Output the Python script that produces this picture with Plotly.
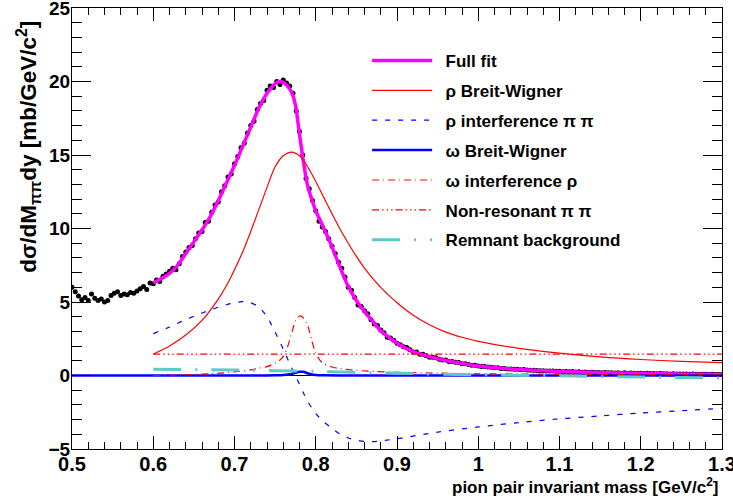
import plotly.graph_objects as go

# ---------------- data ----------------
mass_x = [round(0.5 + 0.004 * i, 3) for i in range(201)]
mass_y = [
    6.0, 5.7, 5.4, 5.15, 5.3, 5.1, 5.55, 5.25, 5.1, 5.2, 5.0, 5.1, 5.45, 5.6, 5.7, 5.45, 5.55, 5.5, 5.65, 5.6, 5.75, 5.9, 6.05, 5.85, 6.3,
    6.25, 6.5, 6.4, 6.75, 6.9, 7.1, 7.3, 7.2, 7.6, 8.1, 8.4, 8.7, 8.85, 9.3, 9.7, 9.8, 10.4, 10.5, 11.1, 11.6, 11.8, 12.5, 12.9, 13.5, 13.7,
    14.4, 14.9, 15.5, 15.8, 16.5, 17.0, 17.3, 18.1, 18.5, 18.7, 19.4, 19.7, 19.6, 20.0, 19.8, 20.1, 19.9, 19.7, 19.2, 18.0, 16.6, 15.0, 13.4, 12.7, 11.9,
    11.2, 10.5, 10.1, 9.8, 9.3, 8.8, 8.3, 7.7, 7.3, 6.7, 6.0, 5.8, 5.3, 4.8, 4.7, 4.4, 4.2, 3.8, 3.5, 3.4, 3.1, 2.9, 2.6, 2.55, 2.4,
    2.2, 2.1, 1.95, 1.9, 1.75, 1.6, 1.6, 1.45, 1.45, 1.35, 1.25, 1.25, 1.2, 1.1, 1.05, 1.05, 0.95, 0.95, 0.9, 0.88, 0.8, 0.8, 0.75, 0.7, 0.7,
    0.65, 0.62, 0.62, 0.57, 0.56, 0.52, 0.52, 0.48, 0.48, 0.45, 0.44, 0.42, 0.42, 0.39, 0.4, 0.37, 0.36, 0.35, 0.34, 0.33, 0.32, 0.31, 0.31, 0.3, 0.29,
    0.29, 0.26, 0.28, 0.25, 0.27, 0.24, 0.25, 0.22, 0.24, 0.21, 0.22, 0.2, 0.21, 0.19, 0.2, 0.18, 0.19, 0.17, 0.19, 0.16, 0.18, 0.15, 0.17, 0.15, 0.16,
    0.15, 0.14, 0.15, 0.13, 0.14, 0.12, 0.13, 0.12, 0.12, 0.11, 0.12, 0.1, 0.11, 0.1, 0.1, 0.09, 0.1, 0.08, 0.09, 0.08, 0.08, 0.07, 0.08, 0.06, 0.07, 0.06,
]

fit_x = [0.60, 0.61, 0.62, 0.63, 0.64, 0.65, 0.66, 0.67, 0.68, 0.69, 0.70, 0.71, 0.72, 0.73, 0.74,
         0.745, 0.75, 0.755, 0.76, 0.765, 0.77, 0.775, 0.78, 0.785, 0.79, 0.795, 0.80, 0.805, 0.81, 0.815,
         0.82, 0.83, 0.84, 0.85, 0.86, 0.87, 0.88, 0.89, 0.90,
         0.92, 0.94, 0.96, 0.98, 1.00, 1.05, 1.10, 1.15, 1.20, 1.25, 1.30]
fit_y = [6.3, 6.6, 6.95, 7.5, 8.3, 9.1, 9.9, 10.8, 11.9, 13.1, 14.3, 15.6, 16.9, 18.2, 19.2,
         19.55, 19.85, 20.0, 19.95, 19.7, 19.3, 18.4, 16.4, 14.5, 12.9, 12.0, 11.2, 10.6, 10.0, 9.4,
         8.75, 7.35, 6.05, 5.1, 4.35, 3.7, 3.05, 2.6, 2.2,
         1.62, 1.28, 1.02, 0.82, 0.65, 0.4, 0.28, 0.2, 0.15, 0.1, 0.06]

rho_bw_x = [0.60, 0.62, 0.64, 0.66, 0.68, 0.69, 0.70, 0.71, 0.72, 0.73, 0.74, 0.75, 0.76, 0.77, 0.78, 0.79, 0.80,
            0.81, 0.82, 0.83, 0.84, 0.85, 0.86, 0.87, 0.88, 0.89, 0.90, 0.92, 0.94, 0.96, 0.98, 1.00,
            1.05, 1.10, 1.15, 1.20, 1.25, 1.30]
rho_bw_y = [1.45, 2.0, 2.75, 3.75, 5.2, 6.1, 7.2, 8.4, 9.8, 11.3, 12.8, 14.2, 14.95, 15.2, 14.95, 14.2, 13.2,
            12.1, 11.0, 9.95, 9.0, 8.1, 7.3, 6.6, 6.0, 5.45, 4.95, 4.1, 3.45, 2.95, 2.6, 2.32,
            1.85, 1.52, 1.27, 1.09, 0.96, 0.87]

rho_int_x = [0.60, 0.62, 0.64, 0.66, 0.68, 0.70, 0.71, 0.72, 0.73, 0.74, 0.75, 0.76, 0.77, 0.78, 0.785, 0.79, 0.795, 0.80,
             0.81, 0.82, 0.83, 0.84, 0.85, 0.86, 0.87, 0.88, 0.90, 0.95, 1.00, 1.05, 1.10, 1.15, 1.20, 1.25, 1.30]
rho_int_y = [2.85, 3.3, 3.8, 4.25, 4.65, 4.95, 5.02, 4.95, 4.65, 4.0, 2.95, 1.8, 0.55, -0.6, -1.2, -1.75, -2.2, -2.6,
             -3.15, -3.6, -4.0, -4.25, -4.4, -4.48, -4.5, -4.45, -4.3, -3.85, -3.5, -3.2, -2.95, -2.75, -2.55, -2.4, -2.23]

omega_bw_x = [0.50, 0.74, 0.75, 0.76, 0.77, 0.775, 0.78, 0.785, 0.79, 0.795, 0.80, 0.81, 0.83, 1.30]
omega_bw_y = [0.0, 0.0, 0.01, 0.03, 0.1, 0.18, 0.25, 0.25, 0.15, 0.07, 0.03, 0.01, 0.0, 0.0]

omega_int_x = [0.60, 0.64, 0.68, 0.70, 0.72, 0.73, 0.74, 0.75, 0.755, 0.76, 0.765, 0.77, 0.775, 0.78, 0.785, 0.79,
               0.795, 0.80, 0.805, 0.81, 0.82, 0.83, 0.85, 0.875, 0.90, 0.95, 1.00, 1.10, 1.20, 1.30]
omega_int_y = [0.0, 0.05, 0.15, 0.25, 0.38, 0.5, 0.6, 0.85, 1.0, 1.3, 1.9, 2.8, 3.7, 4.05, 3.9, 3.4,
               2.4, 1.5, 1.05, 0.8, 0.58, 0.47, 0.35, 0.27, 0.22, 0.16, 0.12, 0.08, 0.06, 0.04]

nonres_x = [0.60, 1.30]
nonres_y = [1.45, 1.45]

remnant_x = [0.60, 0.70, 0.80, 0.90, 1.00, 1.10, 1.20, 1.30]
remnant_y = [0.43, 0.37, 0.28, 0.15, 0.05, -0.02, -0.10, -0.18]

legend_names = ["Full fit", "ρ Breit-Wigner", "ρ interference π π", "ω Breit-Wigner",
                "ω interference ρ", "Non-resonant π π", "Remnant background"]

# ---------------- figure ----------------
FONT = "Liberation Sans, Arial, Helvetica, sans-serif"
fig = go.Figure()

fig.add_trace(go.Scatter(x=mass_x, y=mass_y, mode="markers", showlegend=False,
                         marker=dict(color="black", size=5)))

curves = [
    (fit_x, fit_y, dict(color="#ff00ff", width=3.5), "spline"),
    (rho_bw_x, rho_bw_y, dict(color="#ff0000", width=1.2), "spline"),
    (rho_int_x, rho_int_y, dict(color="#0000ff", width=1.2, dash="5px,8px"), "spline"),
    (omega_bw_x, omega_bw_y, dict(color="#0000ff", width=2.5), "spline"),
    (omega_int_x, omega_int_y, dict(color="#ff0000", width=1.2, dash="7px,4px,1px,4px"), "spline"),
    (nonres_x, nonres_y, dict(color="#ff0000", width=1.2, dash="7px,3px,1.5px,3px,1.5px,3px,1.5px,3px"), "linear"),
    (remnant_x, remnant_y, dict(color="#5fc8c8", width=3, dash="28px,14px,2px,14px"), "spline"),
]
for i, ((xs, ys, ln, shape), name) in enumerate(zip(curves, legend_names)):
    fig.add_trace(go.Scatter(x=xs, y=ys, mode="lines", name="\u2002" + name, legendgroup=f"g{i}",
                             line=dict(shape=shape, smoothing=0.8, **ln)))

fig.add_shape(type="line", xref="x", yref="y", x0=0.5, x1=1.3, y0=0, y1=0,
              line=dict(color="black", width=1), layer="below")

axis_common = dict(showgrid=False, zeroline=False, showline=True, linecolor="black", linewidth=1,
                   mirror="ticks", ticks="inside", tickcolor="black", tickwidth=1,
                   ticklabeloverflow="allow", automargin=False)

fig.update_xaxes(range=[0.5, 1.3], tick0=0.5, dtick=0.1, ticklen=13,
                 minor=dict(ticks="inside", dtick=0.02, ticklen=7, tickcolor="black", tickwidth=1),
                 ticklabelstandoff=-3,
                 tickfont=dict(family=FONT, size=20, color="black", weight="bold"), **axis_common)
fig.update_yaxes(range=[-5, 25], tick0=-5, dtick=5, ticklen=19,
                 minor=dict(ticks="inside", dtick=1, ticklen=10, tickcolor="black", tickwidth=1),
                 ticklabelstandoff=-3,
                 tickfont=dict(family=FONT, size=19, color="black", weight="bold"), **axis_common)

fig.add_annotation(text="dσ/dM<sub>ππ</sub>dy [mb/GeV/c<sup>2</sup>]", textangle=-90,
                   xref="paper", yref="paper", x=-0.068, y=0.975, xanchor="center", yanchor="top",
                   showarrow=False, font=dict(family=FONT, size=22.5, color="black", weight="bold"))
fig.add_annotation(text="pion pair invariant mass [GeV/c<sup>2</sup>]",
                   xref="paper", yref="paper", x=0.997, y=-0.083, xanchor="right", yanchor="middle",
                   showarrow=False, font=dict(family=FONT, size=17, color="black", weight="bold"))

fig.update_layout(
    width=733, height=501,
    margin=dict(l=72, r=11, t=8, b=52, autoexpand=False),
    plot_bgcolor="white", paper_bgcolor="white",
    legend=dict(x=0.454, y=0.921, xanchor="left", yanchor="top", bgcolor="rgba(0,0,0,0)",
                font=dict(family=FONT, size=17, color="black", weight="bold"), itemwidth=60,
                tracegroupgap=4.8, traceorder="grouped"),
)

fig.write_html("out.html")
